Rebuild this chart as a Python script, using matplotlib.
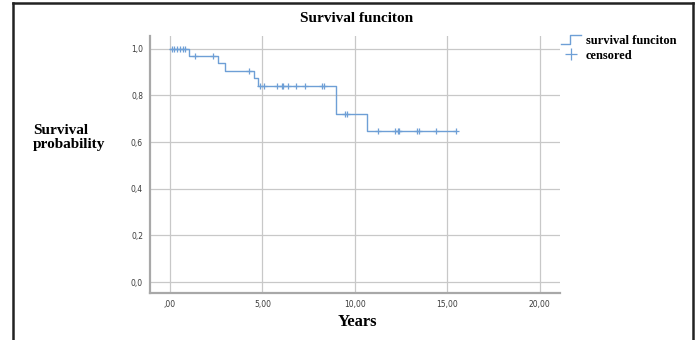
import matplotlib.pyplot as plt
from matplotlib.lines import Line2D
from matplotlib.legend_handler import HandlerBase

# Kaplan-Meier step curve (time of drop, survival after drop)
step_times = [0.0, 1.03, 2.6, 3.0, 4.55, 4.75, 9.0, 10.66, 15.45]
step_surv = [1.0, 0.969, 0.938, 0.906, 0.873, 0.840, 0.720, 0.648, 0.648]

# censored observations
cens_times = [0.09, 0.22, 0.36, 0.54, 0.72, 0.81, 1.36, 2.35, 4.28,
              4.88, 5.1, 5.78, 6.05, 6.14, 6.41, 6.8, 7.32, 8.22, 8.35,
              9.47, 9.6, 11.24, 12.2, 12.32, 12.41, 13.37, 13.5, 14.4, 15.45]

x_ticks = [0, 5, 10, 15, 20]
x_ticklabels = [",00", "5,00", "10,00", "15,00", "20,00"]
y_ticks = [0.0, 0.2, 0.4, 0.6, 0.8, 1.0]
y_ticklabels = ["0,0", "0,2", "0,4", "0,6", "0,8", "1,0"]

line_color = "#6e9fd6"
serif = "Liberation Serif"


def surv_at(t):
    s = 1.0
    for st, sv in zip(step_times, step_surv):
        if t >= st:
            s = sv
    return s


class StepHandler(HandlerBase):
    # little step symbol, like the SPSS legend
    def create_artists(self, legend, orig, xd, yd, w, h, fontsize, trans):
        xs = [xd, xd + w * 0.45, xd + w * 0.45, xd + w]
        ys = [yd, yd, yd + h, yd + h]
        ln = Line2D(xs, ys, color=orig.get_color(), lw=1.0, transform=trans)
        return [ln]


fig = plt.figure(figsize=(6.96, 3.4), dpi=100)
ax = fig.add_axes([0.2155, 0.138, 0.589, 0.756])

ax.step(step_times, step_surv, where="post", color=line_color, lw=1.0)
cens_y = [surv_at(t) for t in cens_times]
ax.plot(cens_times, cens_y, ls="none", marker="|", ms=5, mew=0.9, color=line_color)
ax.plot(cens_times, cens_y, ls="none", marker="_", ms=4, mew=0.9, color=line_color)

ax.set_xlim(-1.08, 21.1)
ax.set_ylim(-0.047, 1.054)
ax.set_xticks(x_ticks)
ax.set_xticklabels(x_ticklabels)
ax.set_yticks(y_ticks)
ax.set_yticklabels(y_ticklabels)
ax.tick_params(length=0, labelsize=5.5, colors="#3a3a3a", pad=5)
ax.grid(True, color="#c8c8c8", lw=0.9)
ax.set_axisbelow(True)
for s in ["top", "right"]:
    ax.spines[s].set_visible(False)
for s in ["left", "bottom"]:
    ax.spines[s].set_color("#a8a8a8")
    ax.spines[s].set_linewidth(1.6)

fig.text(0.513, 0.945, "Survival funciton", ha="center", va="center",
         family=serif, weight="bold", fontsize=11)
fig.text(0.047, 0.595, "Survival\nprobability", ha="left", va="center",
         family=serif, weight="bold", fontsize=11, linespacing=1.1)
fig.text(0.513, 0.052, "Years", ha="center", va="center",
         family=serif, weight="bold", fontsize=12)

step_handle = Line2D([0], [0], color=line_color, lw=1.0)
cens_handle = Line2D([0], [0], color=line_color, lw=0, marker="+", ms=8, mew=0.9)
fig.legend([step_handle, cens_handle], ["survival funciton", "censored"],
           loc="upper left", bbox_to_anchor=(0.79, 0.93),
           frameon=False, handlelength=1.6, handletextpad=0.4,
           labelspacing=0.2, handler_map={step_handle: StepHandler()},
           prop={"family": serif, "weight": "bold", "size": 9})

# black border of the screenshot (left, top, right)
for xs, ys in [([0.018, 0.018], [0, 0.99]), ([0.018, 0.995], [0.99, 0.99]),
               ([0.995, 0.995], [0, 0.99])]:
    fig.add_artist(Line2D(xs, ys, color="#222222", lw=1.8, transform=fig.transFigure))

fig.savefig("out.png", dpi=100)
